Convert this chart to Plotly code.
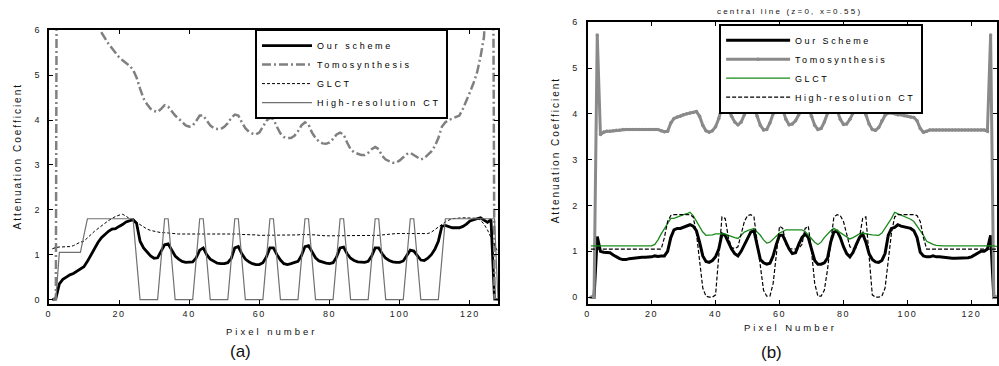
import plotly.graph_objects as go

# ---------------- data ----------------
pixels = list(range(1, 129))

# (a)
ours_a = [
    0.0, 0.02, 0.35, 0.45, 0.5, 0.55, 0.58, 0.63, 0.67, 0.73, 0.85, 1.0, 1.13, 1.27, 1.38, 1.46,
    1.52, 1.57, 1.58, 1.63, 1.67, 1.73, 1.76, 1.78, 1.7, 1.3, 1.15, 1.05, 0.97, 0.92, 0.93, 1.08,
    1.22, 1.24, 1.1, 0.97, 0.9, 0.85, 0.83, 0.83, 0.84, 0.93, 1.1, 1.15, 1.0, 0.9, 0.85, 0.81,
    0.8, 0.8, 0.82, 0.92, 1.15, 1.18, 1.02, 0.9, 0.84, 0.8, 0.78, 0.78, 0.82, 0.95, 1.15, 1.15,
    1.0, 0.88, 0.8, 0.78, 0.8, 0.82, 0.85, 0.98, 1.18, 1.2, 1.05, 0.93, 0.86, 0.83, 0.81, 0.8,
    0.82, 0.95, 1.15, 1.17, 1.02, 0.92, 0.87, 0.84, 0.83, 0.83, 0.85, 0.97, 1.15, 1.15, 1.02, 0.92,
    0.87, 0.84, 0.83, 0.83, 0.86, 0.97, 1.1, 1.08, 0.97, 0.88, 0.87, 0.92, 1.0, 1.12, 1.3, 1.63,
    1.65, 1.63, 1.6, 1.6, 1.6, 1.63, 1.68, 1.75, 1.78, 1.8, 1.82, 1.76, 1.72, 1.78, 0.02, 0.0,
]
tomo_a = [
    0.0, 0.0, 30, 25, 20, 16, 13, 11, 9.5, 8.5, 7.6, 7.0, 6.5, 6.07, 5.95, 5.82,
    5.7, 5.6, 5.5, 5.4, 5.33, 5.27, 5.21, 5.12, 4.95, 4.7, 4.48, 4.35, 4.25, 4.2, 4.18, 4.25,
    4.33, 4.3, 4.2, 4.1, 4.03, 3.95, 3.88, 3.85, 3.88, 3.98, 4.1, 4.1, 3.98, 3.88, 3.82, 3.8,
    3.8, 3.85, 3.93, 4.05, 4.12, 4.1, 3.95, 3.82, 3.74, 3.7, 3.68, 3.72, 3.85, 3.98, 4.05, 4.02,
    3.85, 3.7, 3.62, 3.6, 3.6, 3.65, 3.75, 3.88, 3.95, 3.9, 3.72, 3.6, 3.52, 3.48, 3.47, 3.5,
    3.58, 3.68, 3.72, 3.68, 3.5, 3.35, 3.28, 3.25, 3.22, 3.22, 3.27, 3.35, 3.4, 3.35, 3.2, 3.12,
    3.08, 3.05, 3.05, 3.1, 3.17, 3.24, 3.27, 3.22, 3.16, 3.12, 3.15, 3.22, 3.3, 3.42, 3.6, 3.85,
    3.95, 4.0, 4.03, 4.06, 4.1, 4.25, 4.42, 4.62, 4.82, 5.05, 5.4, 5.85, 7.5, 20, 0.0, 0.0,
]
glct_a = [
    1.13, 1.16, 1.17, 1.17, 1.17, 1.18, 1.2, 1.24, 1.28, 1.3, 1.38, 1.45, 1.52, 1.58, 1.65, 1.7,
    1.76, 1.81, 1.85, 1.88, 1.9, 1.86, 1.8, 1.77, 1.72, 1.66, 1.61, 1.57, 1.54, 1.52, 1.5, 1.49,
    1.49, 1.48, 1.47, 1.46, 1.46, 1.46, 1.46, 1.46, 1.46, 1.46, 1.47, 1.47, 1.47, 1.46, 1.46, 1.46,
    1.46, 1.46, 1.46, 1.46, 1.46, 1.46, 1.45, 1.45, 1.45, 1.45, 1.44, 1.43, 1.43, 1.43, 1.43, 1.43,
    1.43, 1.43, 1.43, 1.43, 1.43, 1.43, 1.44, 1.45, 1.45, 1.45, 1.45, 1.44, 1.43, 1.42, 1.42, 1.42,
    1.42, 1.42, 1.42, 1.42, 1.42, 1.42, 1.42, 1.42, 1.42, 1.42, 1.42, 1.42, 1.42, 1.43, 1.44, 1.45,
    1.46, 1.47, 1.47, 1.47, 1.47, 1.47, 1.47, 1.47, 1.47, 1.47, 1.47, 1.47, 1.5, 1.56, 1.62, 1.68,
    1.73, 1.77, 1.8, 1.81, 1.82, 1.82, 1.82, 1.82, 1.82, 1.81, 1.77, 1.68, 1.55, 1.4, 1.22, 1.05,
]
hr_a = [
    0.0, 0.0, 1.05, 1.05, 1.05, 1.05, 1.05, 1.05, 1.05, 1.43, 1.8, 1.8, 1.8, 1.8, 1.8, 1.8,
    1.8, 1.8, 1.8, 1.8, 1.8, 1.8, 1.8, 1.8, 0.9, 0.0, 0.0, 0.0, 0.0, 0.0, 0.0, 0.9,
    1.8, 1.8, 0.9, 0.0, 0.0, 0.0, 0.0, 0.0, 0.0, 0.9, 1.8, 1.8, 0.9, 0.0, 0.0, 0.0,
    0.0, 0.0, 0.0, 0.9, 1.8, 1.8, 0.9, 0.0, 0.0, 0.0, 0.0, 0.0, 0.0, 0.9, 1.8, 1.8,
    0.9, 0.0, 0.0, 0.0, 0.0, 0.0, 0.0, 0.9, 1.8, 1.8, 0.9, 0.0, 0.0, 0.0, 0.0, 0.0,
    0.0, 0.9, 1.8, 1.8, 0.9, 0.0, 0.0, 0.0, 0.0, 0.0, 0.0, 0.9, 1.8, 1.8, 0.9, 0.0,
    0.0, 0.0, 0.0, 0.0, 0.0, 0.9, 1.8, 1.8, 0.9, 0.0, 0.0, 0.0, 0.0, 0.0, 0.0, 0.9,
    1.8, 1.8, 1.8, 1.8, 1.8, 1.8, 1.8, 1.8, 1.8, 1.8, 1.8, 1.8, 1.8, 1.8, 1.8, 0.0,
]

# (b)
ours_b = [
    0.0, 0.0, 1.32, 1.0, 0.98, 0.98, 0.97, 0.92, 0.88, 0.84, 0.82, 0.82, 0.84, 0.85, 0.85, 0.87,
    0.87, 0.87, 0.87, 0.88, 0.9, 0.89, 0.9, 0.9, 1.0, 1.3, 1.47, 1.5, 1.5, 1.53, 1.55, 1.58,
    1.55, 1.45, 1.2, 0.9, 0.78, 0.76, 0.8, 0.88, 1.05, 1.38, 1.35, 1.2, 1.05, 0.95, 0.9, 1.0,
    1.15, 1.3, 1.42, 1.45, 1.1, 0.82, 0.75, 0.72, 0.74, 0.9, 1.15, 1.35, 1.35, 1.2, 1.05, 0.95,
    0.97, 1.15, 1.3, 1.38, 1.3, 1.05, 0.8, 0.72, 0.72, 0.75, 0.85, 1.2, 1.42, 1.44, 1.3, 1.1,
    0.95, 0.88, 0.98, 1.15, 1.3, 1.38, 1.2, 0.95, 0.82, 0.77, 0.76, 0.8, 0.95, 1.35, 1.5, 1.52,
    1.58, 1.55, 1.53, 1.52, 1.5, 1.45, 1.3, 0.98, 0.9, 0.88, 0.88, 0.9, 0.88, 0.88, 0.87, 0.87,
    0.86, 0.85, 0.85, 0.85, 0.85, 0.85, 0.86, 0.88, 0.92, 0.97, 1.0, 1.0, 1.05, 1.35, 0.0, 0.0,
]
tomo_b = [
    0.0, 0.0, 5.72, 3.55, 3.6, 3.62, 3.62, 3.63, 3.64, 3.64, 3.66, 3.66, 3.66, 3.66, 3.66, 3.66,
    3.66, 3.66, 3.66, 3.66, 3.66, 3.66, 3.63, 3.61, 3.62, 3.8, 3.9, 3.93, 3.95, 3.98, 4.0, 4.02,
    4.03, 4.05, 3.95, 3.75, 3.63, 3.6, 3.63, 3.72, 3.9, 4.15, 4.2, 4.1, 3.95, 3.82, 3.76, 3.82,
    3.98, 4.15, 4.24, 4.15, 3.95, 3.75, 3.65, 3.66, 3.8, 4.0, 4.2, 4.24, 4.1, 3.88, 3.76, 3.78,
    3.85, 3.98, 4.15, 4.23, 4.15, 3.95, 3.75, 3.66, 3.68, 3.82, 4.02, 4.2, 4.22, 4.08, 3.88, 3.77,
    3.78, 3.88, 4.02, 4.15, 4.2, 4.15, 3.98, 3.78, 3.66, 3.64, 3.7, 3.85, 3.97, 4.02, 4.02, 4.0,
    3.98, 3.98, 3.96, 3.95, 3.93, 3.92, 3.85, 3.68, 3.6, 3.62, 3.65, 3.65, 3.65, 3.65, 3.65, 3.65,
    3.65, 3.65, 3.65, 3.65, 3.65, 3.65, 3.65, 3.65, 3.65, 3.65, 3.65, 3.65, 3.62, 5.72, 0.0, 0.0,
]
glct_b = [
    1.12, 1.12, 1.12, 1.12, 1.12, 1.12, 1.12, 1.12, 1.12, 1.12, 1.12, 1.12, 1.12, 1.12, 1.12, 1.12,
    1.12, 1.12, 1.12, 1.12, 1.15, 1.25, 1.38, 1.5, 1.62, 1.72, 1.72, 1.75, 1.78, 1.8, 1.82, 1.85,
    1.78, 1.65, 1.52, 1.42, 1.35, 1.35, 1.36, 1.38, 1.38, 1.39, 1.38, 1.35, 1.32, 1.3, 1.28, 1.35,
    1.42, 1.45, 1.48, 1.5, 1.42, 1.35, 1.25, 1.18, 1.2, 1.27, 1.33, 1.4, 1.43, 1.47, 1.47, 1.47,
    1.47, 1.47, 1.47, 1.43, 1.35, 1.27, 1.2, 1.15, 1.2, 1.3, 1.38, 1.45, 1.5, 1.45, 1.4, 1.35,
    1.3, 1.27, 1.3, 1.35, 1.38, 1.4, 1.38, 1.37, 1.36, 1.35, 1.35, 1.4, 1.5, 1.6, 1.72, 1.85,
    1.82, 1.78, 1.75, 1.72, 1.7, 1.65, 1.55, 1.45, 1.35, 1.22, 1.18, 1.15, 1.13, 1.12, 1.12, 1.12,
    1.12, 1.12, 1.12, 1.12, 1.12, 1.12, 1.12, 1.12, 1.12, 1.12, 1.12, 1.12, 1.12, 1.12, 1.12, 1.1,
]
hr_b = [
    1.05, 1.05, 1.05, 1.05, 1.05, 1.05, 1.05, 1.05, 1.05, 1.05, 1.05, 1.05, 1.05, 1.05, 1.05, 1.05,
    1.05, 1.05, 1.05, 1.05, 1.05, 1.05, 1.05, 1.3, 1.65, 1.78, 1.8, 1.8, 1.8, 1.8, 1.8, 1.8,
    1.75, 1.4, 0.8, 0.2, 0.02, 0.0, 0.0, 0.05, 0.9, 1.75, 1.72, 1.3, 1.08, 1.06, 1.1, 1.35,
    1.65, 1.78, 1.8, 1.75, 1.2, 0.6, 0.15, 0.02, 0.02, 0.3, 1.0, 1.55, 1.5, 1.15, 1.06, 1.05,
    1.05, 1.06, 1.15, 1.5, 1.55, 1.0, 0.3, 0.02, 0.02, 0.15, 0.6, 1.2, 1.75, 1.8, 1.78, 1.65,
    1.35, 1.1, 1.06, 1.08, 1.3, 1.72, 1.75, 0.9, 0.05, 0.0, 0.0, 0.02, 0.2, 0.8, 1.4, 1.75,
    1.8, 1.8, 1.8, 1.8, 1.8, 1.8, 1.78, 1.65, 1.3, 1.05, 1.05, 1.05, 1.05, 1.05, 1.05, 1.05,
    1.05, 1.05, 1.05, 1.05, 1.05, 1.05, 1.05, 1.05, 1.05, 1.05, 1.05, 1.05, 1.05, 1.05, 1.05, 1.05,
]

x_ticks = [0, 20, 40, 60, 80, 100, 120]
y_ticks = [0, 1, 2, 3, 4, 5, 6]

names_a = ["Our scheme", "Tomosynthesis", "GLCT", "High-resolution CT"]
names_b = ["Our Scheme", "Tomosynthesis", "GLCT", "High-resolution CT"]

W, H = 999, 366
FONT = "Liberation Sans, Arial, sans-serif"


def px(xp):
    return xp / W


def py(yp):
    return (H - yp) / H


def spaced(text, sp):
    return '<span style="letter-spacing:%spx">%s</span>' % (sp, text)


LS_A = 2.7
LS_B = 2.5

fig = go.Figure()

# ---- (a) traces ----
fig.add_trace(go.Scatter(x=pixels, y=ours_a, name=spaced(names_a[0], LS_A), mode="lines",
                         line=dict(color="black", width=2.8), xaxis="x", yaxis="y",
                         legend="legend"))
fig.add_trace(go.Scatter(x=pixels, y=tomo_a, name=spaced(names_a[1], LS_A), mode="lines",
                         line=dict(color="#808080", width=2.5, dash="9px,3px,2px,3px"),
                         xaxis="x", yaxis="y", legend="legend"))
fig.add_trace(go.Scatter(x=pixels, y=glct_a, name=spaced(names_a[2], LS_A), mode="lines",
                         line=dict(color="black", width=1, dash="3px,2px"),
                         xaxis="x", yaxis="y", legend="legend"))
fig.add_trace(go.Scatter(x=pixels, y=hr_a, name=spaced(names_a[3], LS_A), mode="lines",
                         line=dict(color="#707070", width=1.2),
                         xaxis="x", yaxis="y", legend="legend"))

# ---- (b) traces ----
fig.add_trace(go.Scatter(x=pixels, y=ours_b, name=spaced(names_b[0], LS_B), mode="lines",
                         line=dict(color="black", width=3), xaxis="x2", yaxis="y2",
                         legend="legend2"))
fig.add_trace(go.Scatter(x=pixels, y=tomo_b, name=spaced(names_b[1], LS_B), mode="lines+markers",
                         line=dict(color="#8a8a8a", width=3),
                         marker=dict(color="#8a8a8a", size=3.5),
                         xaxis="x2", yaxis="y2", legend="legend2"))
fig.add_trace(go.Scatter(x=pixels, y=glct_b, name=spaced(names_b[2], LS_B), mode="lines",
                         line=dict(color="#1a8a1a", width=1.3),
                         xaxis="x2", yaxis="y2", legend="legend2"))
fig.add_trace(go.Scatter(x=pixels, y=hr_b, name=spaced(names_b[3], LS_B), mode="lines",
                         line=dict(color="black", width=1.2, dash="4px,2px"),
                         xaxis="x2", yaxis="y2", legend="legend2"))

x_text = [spaced(str(v), 1.6) for v in x_ticks]
y_text = [spaced(str(v), 1.6) for v in y_ticks]

axis_common = dict(
    showline=True, linecolor="black", linewidth=2, mirror="ticks",
    ticks="inside", ticklen=4, tickwidth=1, tickcolor="black",
    showgrid=False, zeroline=False,
    tickfont=dict(family=FONT, size=9, color="#222"),
)

fig.update_layout(
    width=W, height=H, autosize=False,
    margin=dict(l=0, r=0, t=0, b=0),
    paper_bgcolor="white", plot_bgcolor="white",
    font=dict(family=FONT, color="black"),
    xaxis=dict(domain=[px(46), px(497)], range=[0, 128], tickvals=x_ticks, ticktext=x_text,
               anchor="y", **axis_common),
    yaxis=dict(domain=[py(304), py(25.7)], range=[-0.1, 6], tickvals=y_ticks, ticktext=y_text,
               anchor="x", ticklabelstandoff=4, **axis_common),
    xaxis2=dict(domain=[px(587), px(998)], range=[0, 128], tickvals=x_ticks, ticktext=x_text,
                anchor="y2", **axis_common),
    yaxis2=dict(domain=[py(304), py(17.5)], range=[-0.15, 6], tickvals=y_ticks, ticktext=y_text,
                anchor="x2", ticklabelstandoff=5, **axis_common),
    legend=dict(x=px(253), y=py(24.5), xanchor="left", yanchor="top",
                bgcolor="white", bordercolor="black", borderwidth=2,
                font=dict(family=FONT, size=9, color="black"),
                tracegroupgap=0, itemwidth=50),
    legend2=dict(x=px(719), y=py(19), xanchor="left", yanchor="top",
                 bgcolor="white", bordercolor="black", borderwidth=2,
                 font=dict(family=FONT, size=9, color="black"),
                 tracegroupgap=0, itemwidth=64, entrywidth=175),
    showlegend=True,
)

ann = [
    dict(text=spaced("Pixel number", 3), x=px(270), y=py(332), size=9.5, angle=0),
    dict(text=spaced("Attenuation Coefficient", 2), x=px(15), y=py(154), size=10, angle=-90),
    dict(text=spaced("Pixel Number", 3), x=px(791), y=py(328), size=9.5, angle=0),
    dict(text=spaced("Attenuation Coefficient", 2), x=px(555), y=py(148), size=10, angle=-90),
    dict(text=spaced("central line (z=0, x=0.55)", 2.2), x=px(790), y=py(7), size=8, angle=0),
    dict(text="(a)", x=px(238), y=py(352), size=17, angle=0),
    dict(text="(b)", x=px(772), y=py(353), size=17, angle=0),
]
for a in ann:
    fig.add_annotation(text=a["text"], x=a["x"], y=a["y"], xref="paper", yref="paper",
                       xanchor="center", yanchor="middle", showarrow=False,
                       textangle=a["angle"],
                       font=dict(family=FONT, size=a["size"], color="#111"))

post = """
document.body.style.margin = '0';
document.body.style.padding = '0';
document.body.style.overflow = 'hidden';
"""

fig.write_html("out.html", config={"displayModeBar": False}, post_script=post)
